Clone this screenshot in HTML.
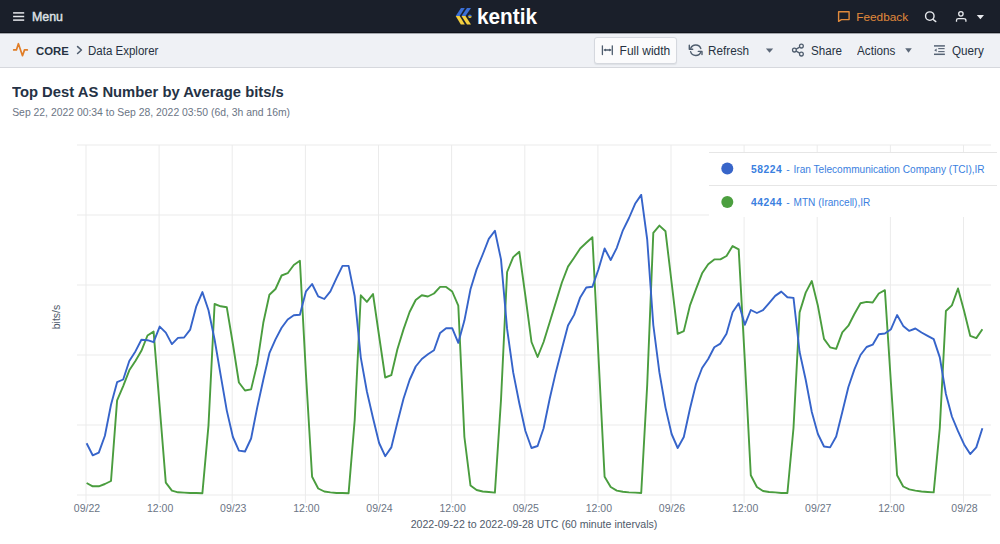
<!DOCTYPE html>
<html><head><meta charset="utf-8"><style>
*{margin:0;padding:0;box-sizing:border-box}
html,body{width:1000px;height:544px;overflow:hidden;background:#fff;font-family:"Liberation Sans",sans-serif;-webkit-font-smoothing:antialiased}
.hdr{position:absolute;left:0;top:0;width:1000px;height:33px;background:#1a1f2a;border-bottom:1px solid #0f131a}
.crumb{position:absolute;left:0;top:33px;width:1000px;height:35px;background:#eff1f5;border-top:1px solid #a3a6ad;border-bottom:1px solid #d6d8dd}
.t{position:absolute;white-space:nowrap;line-height:1}
svg{position:absolute;left:0;top:0}
</style></head><body>
<div class="hdr"></div>
<div class="crumb"></div>
<div style="position:absolute;left:594px;top:37px;width:83px;height:27px;background:#fbfbfc;border:1px solid #d5d8de;border-radius:3px;box-shadow:0 1px 1px #dde0e5"></div>
<div class="t" style="left:32px;top:10.9px;font-size:12.4px;font-weight:normal;-webkit-text-stroke:0.4px #dfe1e5;color:#dfe1e5">Menu</div>
<div class="t" style="left:476.5px;top:6px;font-size:22px;font-weight:bold;color:#fff;transform:scaleX(0.945);transform-origin:0 0">kentik</div>
<div class="t" style="left:856.3px;top:11.7px;font-size:11.8px;font-weight:normal;color:#e28a3b">Feedback</div>
<div class="t" style="left:36px;top:45.6px;font-size:11.8px;font-weight:bold;color:#263142;transform:scaleX(0.96);transform-origin:0 0">CORE</div>
<div class="t" style="left:87.7px;top:44.6px;font-size:12.3px;font-weight:normal;color:#263142;transform:scaleX(0.936);transform-origin:0 0">Data Explorer</div>
<div class="t" style="left:619.6px;top:44.5px;font-size:12px;font-weight:normal;color:#263142">Full width</div>
<div class="t" style="left:708.4px;top:44.6px;font-size:12px;font-weight:normal;color:#263142;transform:scaleX(0.978);transform-origin:0 0">Refresh</div>
<div class="t" style="left:810.5px;top:44.6px;font-size:12px;font-weight:normal;color:#263142;transform:scaleX(0.968);transform-origin:0 0">Share</div>
<div class="t" style="left:857.2px;top:44.6px;font-size:12px;font-weight:normal;color:#263142;transform:scaleX(0.975);transform-origin:0 0">Actions</div>
<div class="t" style="left:952.1px;top:44.6px;font-size:12px;font-weight:normal;color:#263142;transform:scaleX(0.973);transform-origin:0 0">Query</div>
<div class="t" style="left:12.4px;top:83.6px;font-size:15px;font-weight:bold;color:#253245;transform:scaleX(0.986);transform-origin:0 0">Top Dest AS Number by Average bits/s</div>
<div class="t" style="left:12.2px;top:108.1px;font-size:10.4px;font-weight:normal;color:#6b7585">Sep 22, 2022 00:34 to Sep 28, 2022 03:50 (6d, 3h and 16m)</div>
<svg width="1000" height="544">
<g stroke="#e6e8ec" stroke-width="1.5"><line x1="13.1" y1="12.9" x2="24.2" y2="12.9"/><line x1="13.1" y1="16.5" x2="24.2" y2="16.5"/><line x1="13.1" y1="20.1" x2="24.2" y2="20.1"/></g>
<polygon points="455.7,16 459.7,16 464.8,8.1 461,8.1" fill="#3b6fd6"/>
<polygon points="461.5,16 465.5,16 471,8.1 467,8.1" fill="#3b6fd6"/>
<polygon points="455.7,16 459.7,16 464.8,24.4 460.8,24.4" fill="#f4cf3f"/>
<polygon points="461.5,16 465.5,16 471,24.4 467,24.4" fill="#f4cf3f"/>
<path d="M468.1,16.2 A1.8,1.8 0 0 1 471.7,16.2 Z" fill="#3b6fd6"/>
<path d="M468.1,16.2 A1.8,1.8 0 0 0 471.7,16.2 Z" fill="#f4cf3f"/>
<path d="M838.6,21.3 L838.6,11.7 L849.1,11.7 L849.1,19.6 L841.4,19.6 Z" fill="none" stroke="#e28a3b" stroke-width="1.4" stroke-linejoin="round"/>
<circle cx="929.8" cy="16.1" r="4.25" fill="none" stroke="#e8eaee" stroke-width="1.4"/>
<line x1="932.9" y1="19.2" x2="935.8" y2="21.6" stroke="#e8eaee" stroke-width="1.4" stroke-linecap="round"/>
<circle cx="960.9" cy="13.85" r="2.2" fill="none" stroke="#e8eaee" stroke-width="1.3"/>
<path d="M956.5,21.7 V20.3 Q956.5,18.6 958.4,18.6 H963.5 Q965.9,18.6 965.9,20.3 V21.7" fill="none" stroke="#e8eaee" stroke-width="1.3"/>
<polygon points="976.8,15 984,15 980.4,19.2" fill="#e8eaee"/>
<path d="M13.7,49.9 H16.4 L18.4,43.7 L22.5,55.7 L24.5,49.9 H27.3" fill="none" stroke="#e07d26" stroke-width="1.7" stroke-linejoin="round" stroke-linecap="round"/>
<path d="M77.6,46.6 L81.4,50 L77.6,53.5" fill="none" stroke="#4f5d6e" stroke-width="1.6" stroke-linecap="round" stroke-linejoin="round"/>
<g stroke="#4f5d6e" stroke-width="1.3" fill="none" stroke-linecap="round">
<line x1="602.4" y1="45.8" x2="602.4" y2="54.6"/><line x1="612.3" y1="45.8" x2="612.3" y2="54.6"/><line x1="604.3" y1="50" x2="610.8" y2="50"/>
</g>
<path d="M604.1,50 L606,48.6 L606,51.4 Z M611,50 L609.1,48.6 L609.1,51.4 Z" fill="#4f5d6e"/>
<g stroke="#4f5d6e" stroke-width="1.4" fill="none" stroke-linecap="round" stroke-linejoin="round">
<path d="M700.8,48.6 A5.4,5.4 0 0 0 690.7,48.3"/><path d="M689.3,45.2 V49.2 H692.7"/>
<path d="M690.6,51.6 A5.4,5.4 0 0 0 700.9,51.7"/><path d="M698.3,51.4 H702 V54.6"/>
</g>
<polygon points="765.9,48.5 773.2,48.5 769.55,52.7" fill="#5c6878"/>
<g stroke="#4f5d6e" stroke-width="1.3" fill="none">
<circle cx="801.4" cy="46.1" r="1.9"/><circle cx="794.4" cy="50.1" r="1.9"/><circle cx="801.4" cy="54.1" r="1.9"/>
<line x1="796.1" y1="49.1" x2="799.7" y2="47.1"/><line x1="796.1" y1="51.1" x2="799.7" y2="53.1"/>
</g>
<polygon points="905.2,48.2 911.8,48.2 908.5,52.7" fill="#5c6878"/>
<g stroke="#566374" fill="none">
<line x1="934" y1="45.9" x2="944.9" y2="45.9" stroke-width="1.5"/><line x1="934" y1="54.3" x2="944.9" y2="54.3" stroke-width="1.5"/>
<line x1="938.2" y1="48.6" x2="944.6" y2="48.6" stroke-width="1.1"/><line x1="938.2" y1="51.6" x2="944.6" y2="51.6" stroke-width="1.1"/>
</g>
<polygon points="936.6,48.5 936.6,51.8 934.2,50.15" fill="#566374"/>
<g stroke="#ebebeb" stroke-width="1"><line x1="86.0" y1="145" x2="86.0" y2="503"/><line x1="159.1" y1="145" x2="159.1" y2="503"/><line x1="232.2" y1="145" x2="232.2" y2="503"/><line x1="305.4" y1="145" x2="305.4" y2="503"/><line x1="378.5" y1="145" x2="378.5" y2="503"/><line x1="451.6" y1="145" x2="451.6" y2="503"/><line x1="524.8" y1="145" x2="524.8" y2="503"/><line x1="597.9" y1="145" x2="597.9" y2="503"/><line x1="671.0" y1="145" x2="671.0" y2="503"/><line x1="744.1" y1="145" x2="744.1" y2="503"/><line x1="817.2" y1="145" x2="817.2" y2="503"/><line x1="890.4" y1="145" x2="890.4" y2="503"/><line x1="963.5" y1="145" x2="963.5" y2="503"/><line x1="77" y1="145.0" x2="991" y2="145.0"/><line x1="77" y1="215.0" x2="991" y2="215.0"/><line x1="77" y1="285.0" x2="991" y2="285.0"/><line x1="77" y1="355.0" x2="991" y2="355.0"/><line x1="77" y1="425.0" x2="991" y2="425.0"/><line x1="77" y1="495.0" x2="991" y2="495.0"/></g>
<g font-family="Liberation Sans" font-size="10.5" fill="#6b7585" text-anchor="middle"><text x="87.0" y="512">09/22</text><text x="160.1" y="512">12:00</text><text x="233.2" y="512">09/23</text><text x="306.4" y="512">12:00</text><text x="379.5" y="512">09/24</text><text x="452.6" y="512">12:00</text><text x="525.8" y="512">09/25</text><text x="598.9" y="512">12:00</text><text x="672.0" y="512">09/26</text><text x="745.1" y="512">12:00</text><text x="818.2" y="512">09/27</text><text x="891.4" y="512">12:00</text><text x="964.5" y="512">09/28</text></g>
<text x="534" y="528" font-family="Liberation Sans" font-size="10.6" fill="#4f5a6a" text-anchor="middle">2022-09-22 to 2022-09-28 UTC (60 minute intervals)</text>
<text transform="translate(60,317) rotate(-90)" font-family="Liberation Sans" font-size="10.5" fill="#4f5a6a" text-anchor="middle">bits/s</text>
<path d="M86.6,483.0 L92.7,486.3 L98.8,486.3 L104.9,484.0 L111.0,481.0 L117.1,400.4 L123.2,386.1 L129.3,370.3 L135.4,361.0 L141.4,350.8 L147.5,335.5 L153.6,331.6 L159.7,407.0 L165.8,482.7 L171.9,490.6 L178.0,492.3 L184.1,492.6 L190.2,493.0 L196.3,493.0 L202.4,493.2 L208.5,425.3 L214.6,304.0 L220.7,306.3 L226.8,307.3 L232.9,344.0 L238.9,382.5 L245.0,390.5 L251.1,389.4 L257.2,363.7 L263.3,322.8 L269.4,294.7 L275.5,289.0 L281.6,275.5 L287.7,273.2 L293.8,265.0 L299.9,260.8 L306.0,375.0 L312.1,476.8 L318.2,488.5 L324.3,491.5 L330.4,492.4 L336.5,493.0 L342.5,493.0 L348.6,493.2 L354.7,420.0 L360.8,295.3 L366.9,301.9 L373.0,294.0 L379.1,336.0 L385.2,377.5 L391.3,375.2 L397.4,349.2 L403.5,329.4 L409.6,312.0 L415.7,300.0 L421.8,295.2 L427.9,296.5 L434.0,293.5 L440.1,286.9 L446.1,286.9 L452.2,291.5 L458.3,305.7 L464.4,437.0 L470.5,485.6 L476.6,490.0 L482.7,491.5 L488.8,492.0 L494.9,492.6 L501.0,400.0 L507.1,272.0 L513.2,257.1 L519.3,251.8 L525.4,296.0 L531.5,342.0 L537.6,357.0 L543.6,342.0 L549.7,322.2 L555.8,302.4 L561.9,282.5 L568.0,266.6 L574.1,257.7 L580.2,248.5 L586.3,242.8 L592.4,237.2 L598.5,357.0 L604.6,476.8 L610.7,487.0 L616.8,490.6 L622.9,491.8 L629.0,492.4 L635.1,492.6 L641.2,493.0 L647.2,385.0 L653.3,232.9 L659.4,225.6 L665.5,231.3 L671.6,282.5 L677.7,333.8 L683.8,331.1 L689.9,305.7 L696.0,289.1 L702.1,273.3 L708.2,264.3 L714.3,259.4 L720.4,259.4 L726.5,256.0 L732.6,246.1 L738.7,249.4 L744.8,360.0 L750.8,475.3 L756.9,487.0 L763.0,491.0 L769.1,492.0 L775.2,492.4 L781.3,493.0 L787.4,493.0 L793.5,428.0 L799.6,312.4 L805.7,292.6 L811.8,281.0 L817.9,305.8 L824.0,338.9 L830.1,347.3 L836.2,348.8 L842.3,332.3 L848.4,325.7 L854.4,314.0 L860.5,303.2 L866.6,301.9 L872.7,302.5 L878.8,293.5 L884.9,290.2 L891.0,384.0 L897.1,475.3 L903.2,486.5 L909.3,489.4 L915.4,490.6 L921.5,491.5 L927.6,492.0 L933.7,492.4 L939.8,428.0 L945.9,311.0 L951.9,305.4 L958.0,288.5 L964.1,311.0 L970.2,335.8 L976.3,338.1 L982.4,329.2" fill="none" stroke="#4a9d3e" stroke-width="1.9" stroke-linejoin="round"/>
<path d="M86.6,443.3 L92.7,455.3 L98.8,452.6 L104.9,435.7 L111.0,404.7 L117.1,382.2 L123.2,379.5 L129.3,361.0 L135.4,351.4 L141.4,339.8 L147.5,340.2 L153.6,342.2 L159.7,326.6 L165.8,332.6 L171.9,344.1 L178.0,337.9 L184.1,337.5 L190.2,329.6 L196.3,306.3 L202.4,292.1 L208.5,310.3 L214.6,339.5 L220.7,375.3 L226.8,410.6 L232.9,437.0 L238.9,450.6 L245.0,451.5 L251.1,438.5 L257.2,407.6 L263.3,379.7 L269.4,353.2 L275.5,339.4 L281.6,327.8 L287.7,319.5 L293.8,315.3 L299.9,314.7 L306.0,291.3 L312.1,284.0 L318.2,296.3 L324.3,299.0 L330.4,291.3 L336.5,278.1 L342.5,265.9 L348.6,265.9 L354.7,296.3 L360.8,357.6 L366.9,391.5 L373.0,418.0 L379.1,443.0 L385.2,456.2 L391.3,447.4 L397.4,422.4 L403.5,398.8 L409.6,380.0 L415.7,366.5 L421.8,359.0 L427.9,354.2 L434.0,350.3 L440.1,332.9 L446.1,328.2 L452.2,328.2 L458.3,342.8 L464.4,320.6 L470.5,289.2 L476.6,269.4 L482.7,254.5 L488.8,238.9 L494.9,230.7 L501.0,259.4 L507.1,328.9 L513.2,372.4 L519.3,403.2 L525.4,431.0 L531.5,448.0 L537.6,446.0 L543.6,428.2 L549.7,398.8 L555.8,372.4 L561.9,348.8 L568.0,325.5 L574.1,314.9 L580.2,297.4 L586.3,287.5 L592.4,286.8 L598.5,269.3 L604.6,248.5 L610.7,260.0 L616.8,247.8 L622.9,230.3 L629.0,218.0 L635.1,203.8 L641.2,194.9 L647.2,239.5 L653.3,325.0 L659.4,372.4 L665.5,407.6 L671.6,434.0 L677.7,448.0 L683.8,437.0 L689.9,409.0 L696.0,384.0 L702.1,368.0 L708.2,359.0 L714.3,347.2 L720.4,343.6 L726.5,333.8 L732.6,312.3 L738.7,303.3 L744.8,324.8 L750.8,310.0 L756.9,313.0 L763.0,310.2 L769.1,303.2 L775.2,295.9 L781.3,291.6 L787.4,297.2 L793.5,297.9 L799.6,352.0 L805.7,379.7 L811.8,412.0 L817.9,434.0 L824.0,446.5 L830.1,447.4 L836.2,436.5 L842.3,412.0 L848.4,387.0 L854.4,369.4 L860.5,355.0 L866.6,347.0 L872.7,344.7 L878.8,334.2 L884.9,333.5 L891.0,329.2 L897.1,315.0 L903.2,325.9 L909.3,330.9 L915.4,328.5 L921.5,332.5 L927.6,335.8 L933.7,339.1 L939.8,357.4 L945.9,394.0 L951.9,416.5 L958.0,431.2 L964.1,444.4 L970.2,454.1 L976.3,447.4 L982.4,428.2" fill="none" stroke="#3664ca" stroke-width="1.9" stroke-linejoin="round"/>
<rect x="709" y="152" width="291" height="65" fill="#fff"/>
<line x1="709" y1="152.5" x2="997" y2="152.5" stroke="#e6e6e6"/>
<line x1="709" y1="185.5" x2="997" y2="185.5" stroke="#e6e6e6"/>
<circle cx="727.3" cy="168.5" r="6" fill="#3865c9"/>
<circle cx="727.3" cy="202" r="6" fill="#4c9f3f"/>
</svg>
<div class="t" style="left:751px;top:165px;font-size:10.3px;color:#3a80e0"><b style="letter-spacing:0.55px">58224</b><span style="word-spacing:1px"> - </span><span style="font-size:10.1px">Iran Telecommunication Company (TCI),IR</span></div>
<div class="t" style="left:751px;top:198px;font-size:10.3px;color:#3a80e0"><b style="letter-spacing:0.55px">44244</b><span style="word-spacing:1px"> - </span><span style="font-size:10.1px">MTN (Irancell),IR</span></div>
</body></html>
